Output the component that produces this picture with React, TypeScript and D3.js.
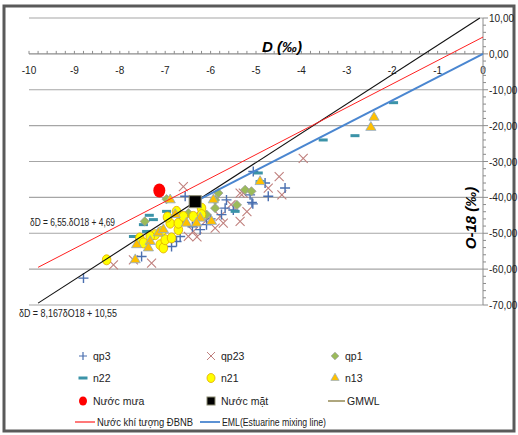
import React, { useEffect, useRef } from "react";
import * as d3 from "d3";

// scatter series [δ18O-ish x, δD-ish y]
const qp3 = [
  [-5.06, -32.8], [-4.8, -36.0], [-4.36, -37.4], [-4.73, -39.7], [-5.09, -41.4],
  [-5.13, -39.3], [-5.07, -41.8], [-5.65, -40.7], [-5.68, -43.0], [-5.76, -44.8],
  [-6.09, -47.6], [-6.23, -49.0], [-6.67, -50.9], [-6.75, -52.3], [-6.86, -53.7],
  [-7.52, -56.5], [-6.56, -39.7], [-8.8, -62.5], [-6.0, -46.0], [-5.5, -43.5],
  [-6.4, -48.2],
];
const qp23 = [
  [-3.96, -29.1], [-4.49, -34.2], [-4.73, -37.4], [-4.43, -39.3], [-5.35, -38.8],
  [-6.6, -37.0], [-5.28, -38.8], [-5.35, -46.7], [-5.72, -47.2], [-5.9, -48.6],
  [-5.79, -45.3], [-6.38, -49.5], [-6.49, -50.9], [-6.23, -43.5], [-7.3, -58.3],
  [-8.14, -58.8], [-7.7, -57.4], [-5.55, -42.0], [-6.1, -46.5], [-5.2, -44.0],
  [-6.3, -51.0],
];
const qp1 = [
  [-5.24, -37.9], [-5.42, -42.1], [-5.9, -43.0], [-5.9, -40.7], [-6.09, -44.8],
  [-6.49, -44.4], [-6.67, -46.7], [-6.97, -40.5], [-7.45, -46.7], [-5.83, -38.8],
  [-5.1, -38.3],
];
const n22 = [
  [-1.97, -13.6], [-3.52, -24.0], [-2.82, -22.8], [-4.95, -33.2], [-4.91, -35.6],
  [-5.46, -43.9], [-6.97, -43.9], [-7.26, -46.2], [-7.41, -49.5], [-7.7, -50.9],
  [-7.48, -47.6], [-7.35, -45.0],
];
const n21 = [
  [-8.29, -57.4], [-6.75, -43.9], [-6.89, -47.2], [-7.08, -49.5], [-7.22, -50.4],
  [-7.33, -50.9], [-7.11, -53.2], [-7.04, -54.1], [-7.0, -51.8], [-6.71, -49.0],
  [-6.38, -45.3], [-6.2, -43.0], [-6.2, -44.8], [-6.86, -51.3], [-7.56, -51.3],
  [-7.48, -52.7], [-6.71, -47.2], [-6.6, -45.3], [-6.95, -45.5],
];
const n13 = [
  [-2.4, -17.7], [-2.47, -20.5], [-4.91, -35.6], [-5.94, -40.7], [-6.23, -45.8],
  [-6.53, -47.2], [-5.98, -46.7], [-6.31, -47.2], [-6.89, -40.7], [-7.15, -49.9],
  [-7.33, -52.3], [-7.63, -53.2], [-7.37, -54.1], [-7.66, -57.4], [-7.04, -49.0],
  [-6.78, -44.8],
];
const nuocMua = [[-7.13, -38.1]];
const nuocMat = [[-6.34, -41.2]];

// lines: [slope, intercept, xStart, xEnd]
const gmwl = [8.167, 10.55, -9.8, -0.07];
const dbnb = [6.55, 4.69, -9.8, 0];
const eml = [6.5, 0, -6.34, 0];

const xTicks = [-10, -9, -8, -7, -6, -5, -4, -3, -2, -1, 0];
const yTicks = [10, 0, -10, -20, -30, -40, -50, -60, -70];

export default function App() {
  const ref = useRef<SVGSVGElement>(null);

  useEffect(() => {
    const svg = d3.select(ref.current);
    svg.selectAll("*").remove();

    const x = d3.scaleLinear().domain([-10, 0]).range([29, 483]);
    const y = d3.scaleLinear().domain([-70, 10]).range([305, 18]);
    const font = "'Liberation Sans', Arial, sans-serif";
    const diamond = (s: number) => `M0,${-s}L${s},0L0,${s}L${-s},0Z`;

    // outer frame
    svg.append("rect")
      .attr("x", 4).attr("y", 6).attr("width", 510).attr("height", 425)
      .attr("fill", "white").attr("stroke", "#5a5a5a").attr("stroke-width", 3);

    // gridlines
    svg.append("g").selectAll("line").data(yTicks).enter().append("line")
      .attr("x1", x(-10)).attr("x2", x(0))
      .attr("y1", (d) => y(d)).attr("y2", (d) => y(d))
      .attr("stroke", (d) => (d === 0 ? "#8c8c8c" : "#a6a6a6"))
      .attr("stroke-width", 1.2);

    // top axis ticks (on y=0)
    const minorX = d3.range(-10, 0.001, 0.2);
    svg.append("g").selectAll("line").data(minorX).enter().append("line")
      .attr("x1", (d) => x(d)).attr("x2", (d) => x(d))
      .attr("y1", y(0) - 3).attr("y2", y(0))
      .attr("stroke", "#8c8c8c");
    svg.append("g").selectAll("text").data(xTicks).enter().append("text")
      .attr("x", (d) => x(d)).attr("y", y(0) + 20)
      .attr("text-anchor", "middle").attr("font-family", font).attr("font-size", 10)
      .attr("fill", "#222").text((d) => d);

    // right axis
    svg.append("line")
      .attr("x1", x(0)).attr("x2", x(0)).attr("y1", y(10)).attr("y2", y(-70))
      .attr("stroke", "#8c8c8c");
    const minorY = d3.range(-70, 10.001, 2);
    svg.append("g").selectAll("line").data(minorY).enter().append("line")
      .attr("x1", x(0)).attr("x2", (d) => x(0) + (d % 10 === 0 ? 5 : 3))
      .attr("y1", (d) => y(d)).attr("y2", (d) => y(d))
      .attr("stroke", "#8c8c8c");
    svg.append("g").selectAll("text").data(yTicks).enter().append("text")
      .attr("x", x(0) + 6).attr("y", (d) => y(d) + 4)
      .attr("font-family", font).attr("font-size", 10).attr("fill", "#222")
      .text((d) => d3.format(".2f")(d).replace(".", ",").replace("−", "-"));

    // axis titles
    svg.append("text")
      .attr("x", 282).attr("y", 52).attr("text-anchor", "middle")
      .attr("font-family", font).attr("font-size", 15).attr("font-weight", "bold")
      .attr("font-style", "italic").text("D (‰)");
    svg.append("text")
      .attr("transform", "translate(476,218) rotate(-90)").attr("text-anchor", "middle")
      .attr("font-family", font).attr("font-size", 15).attr("font-weight", "bold")
      .attr("font-style", "italic").text("O-18 (‰)");

    const plot = svg.append("g");

    // scatter markers
    plot.append("g").selectAll("path").data(qp23).enter().append("path")
      .attr("d", (d) => {
        const cx = x(d[0]), cy = y(d[1]), s = 4.5;
        return `M${cx - s},${cy - s}L${cx + s},${cy + s}M${cx - s},${cy + s}L${cx + s},${cy - s}`;
      })
      .attr("stroke", "#c0807e").attr("stroke-width", 1.1).attr("fill", "none");
    plot.append("g").selectAll("path").data(qp3).enter().append("path")
      .attr("d", (d) => {
        const cx = x(d[0]), cy = y(d[1]), s = 5;
        return `M${cx - s},${cy}L${cx + s},${cy}M${cx},${cy - s}L${cx},${cy + s}`;
      })
      .attr("stroke", "#4a6fb0").attr("stroke-width", 1.4).attr("fill", "none");
    plot.append("g").selectAll("rect").data(n22).enter().append("rect")
      .attr("x", (d) => x(d[0]) - 4.5).attr("y", (d) => y(d[1]) - 1.5)
      .attr("width", 9).attr("height", 3).attr("fill", "#3b93a8");
    plot.append("g").selectAll("path").data(qp1).enter().append("path")
      .attr("transform", (d) => `translate(${x(d[0])},${y(d[1])})`)
      .attr("d", diamond(4.6))
      .attr("fill", "#9bbb59").attr("stroke", "#9a9a9a").attr("stroke-width", 0.8);
    plot.append("g").selectAll("ellipse").data(n21).enter().append("ellipse")
      .attr("cx", (d) => x(d[0])).attr("cy", (d) => y(d[1]))
      .attr("rx", 4.3).attr("ry", 5)
      .attr("fill", "#ffff00").attr("stroke", "#e0a800").attr("stroke-width", 0.8);
    plot.append("g").selectAll("path").data(n13).enter().append("path")
      .attr("transform", (d) => `translate(${x(d[0])},${y(d[1])})`)
      .attr("d", d3.symbol(d3.symbolTriangle, 45)())
      .attr("fill", "#ffc000").attr("stroke", "#8eaacc").attr("stroke-width", 0.8);

    // reference lines
    const lineDef = [
      { p: gmwl, color: "#111", w: 1.1 },
      { p: dbnb, color: "#ff2020", w: 1 },
      { p: eml, color: "#4a86d0", w: 2 },
    ];
    const lineGen = d3.line<number[]>().x((v) => x(v[0])).y((v) => y(v[1]));
    lineDef.forEach((l) => {
      const [m, b, x0, x1] = l.p;
      plot.append("path")
        .attr("d", lineGen([[x0, m * x0 + b], [x1, m * x1 + b]]))
        .attr("stroke", l.color).attr("stroke-width", l.w).attr("fill", "none");
    });

    // rain and surface water
    plot.selectAll(".mua").data(nuocMua).enter().append("ellipse")
      .attr("cx", (d) => x(d[0])).attr("cy", (d) => y(d[1]))
      .attr("rx", 6).attr("ry", 7).attr("fill", "#ff0000");
    plot.selectAll(".mat").data(nuocMat).enter().append("rect")
      .attr("x", (d) => x(d[0]) - 6).attr("y", (d) => y(d[1]) - 6)
      .attr("width", 12).attr("height", 12)
      .attr("fill", "#000").attr("stroke", "#8a8a70").attr("stroke-width", 1);

    // equation labels
    svg.append("text").attr("x", 30).attr("y", 226)
      .attr("font-family", font).attr("font-size", 11).attr("fill", "#222")
      .attr("textLength", 85).attr("lengthAdjust", "spacingAndGlyphs")
      .text("δD = 6,55.δO18 + 4,69");
    svg.append("text").attr("x", 19).attr("y", 317)
      .attr("font-family", font).attr("font-size", 11).attr("fill", "#222")
      .attr("textLength", 98).attr("lengthAdjust", "spacingAndGlyphs")
      .text("δD = 8,167δO18 + 10,55");

    // legend
    const leg = svg.append("g").attr("font-family", font).attr("font-size", 10.5).attr("fill", "#222");
    const rows = [356, 378, 401, 422];
    const cols = [83, 211, 335];
    const item = (cx: number, cy: number, label: string, draw: (g: any) => void) => {
      const g = leg.append("g").attr("transform", `translate(${cx},${cy})`);
      draw(g);
      g.append("text").attr("x", 10).attr("y", 3.5).text(label);
    };
    item(cols[0], rows[0], "qp3", (g) => g.append("path").attr("d", "M-4,0L4,0M0,-4L0,4").attr("stroke", "#4a6fb0").attr("stroke-width", 1.2));
    item(cols[1], rows[0], "qp23", (g) => g.append("path").attr("d", "M-4,-4L4,4M-4,4L4,-4").attr("stroke", "#c0807e"));
    item(cols[2], rows[0], "qp1", (g) => g.append("path").attr("d", diamond(3.8)).attr("fill", "#9bbb59").attr("stroke", "#9a9a9a").attr("stroke-width", 0.7));
    item(cols[0], rows[1], "n22", (g) => g.append("rect").attr("x", -4.5).attr("y", -1.5).attr("width", 9).attr("height", 3).attr("fill", "#3b93a8"));
    item(cols[1], rows[1], "n21", (g) => g.append("ellipse").attr("rx", 4).attr("ry", 4.5).attr("fill", "#ffff00").attr("stroke", "#e0a800").attr("stroke-width", 0.8));
    item(cols[2], rows[1], "n13", (g) => g.append("path").attr("d", d3.symbol(d3.symbolTriangle, 30)()).attr("fill", "#ffc000").attr("stroke", "#8eaacc").attr("stroke-width", 0.7));
    item(cols[0], rows[2], "Nước mưa", (g) => g.append("ellipse").attr("rx", 4).attr("ry", 4.5).attr("fill", "#ff0000"));
    item(cols[1], rows[2], "Nước mặt", (g) => g.append("rect").attr("x", -4).attr("y", -4).attr("width", 8).attr("height", 8).attr("fill", "#000").attr("stroke", "#8a8a70"));
    const lineItem = (x0: number, x1: number, cy: number, color: string, w: number, label: string, len?: number) => {
      leg.append("line").attr("x1", x0).attr("x2", x1).attr("y1", cy).attr("y2", cy)
        .attr("stroke", color).attr("stroke-width", w);
      const t = leg.append("text").attr("x", x1 + 2).attr("y", cy + 3.5).text(label);
      if (len) t.attr("textLength", len).attr("lengthAdjust", "spacingAndGlyphs");
    };
    lineItem(328, 345, rows[2], "#938953", 1.5, "GMWL");
    lineItem(75, 95, rows[3], "#ff2020", 1.2, "Nước khí tượng ĐBNB", 96);
    lineItem(200, 220, rows[3], "#4a86d0", 1.8, "EML(Estuarine mixing line)", 104);
  }, []);

  return (
    <div style={{ position: "absolute", left: 0, top: 0 }}>
      <svg ref={ref} width={518} height={435} style={{ display: "block" }} />
    </div>
  );
}
